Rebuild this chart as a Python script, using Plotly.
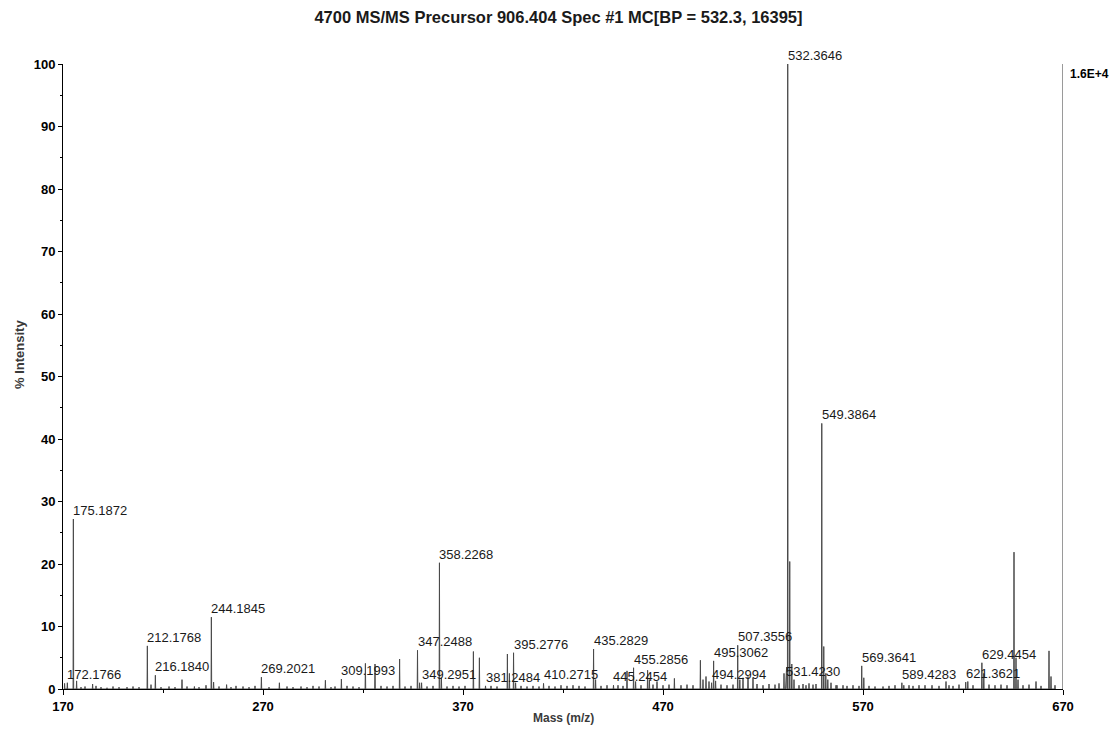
import plotly.graph_objects as go

# ---- labelled peaks (m/z, % intensity) ----
label_mz = [172.1766, 175.1872, 212.1768, 216.1840, 244.1845, 269.2021, 309.1993,
            347.2488, 349.2951, 358.2268, 381.2484, 395.2776, 410.2715, 435.2829,
            445.2454, 455.2856, 494.2994, 495.3062, 507.3556, 531.4230, 532.3646,
            549.3864, 569.3641, 589.4283, 621.3621, 629.4454]
label_int = [1.0, 27.2, 6.9, 2.2, 11.5, 1.9, 1.6,
             6.2, 1.0, 20.2, 0.5, 5.8, 0.9, 6.4,
             0.6, 3.4, 1.0, 4.5, 7.0, 1.5, 100.0,
             42.5, 3.7, 1.0, 1.1, 4.2]

# ---- unlabelled peaks ----
other_mz = [170.8, 176.8, 184.8, 186.5, 214.0, 229.5, 235.7, 241.5, 245.3, 251.8, 256.5,
            278.2, 301.2, 321.2, 326.0, 338.3, 348.3, 359.2, 375.2, 378.2, 392.2, 393.2,
            396.3, 436.3, 447.5, 452.0, 456.3, 462.3, 463.2, 467.0, 475.7, 488.7, 490.0,
            491.5, 493.0, 496.3, 508.4, 510.0, 512.5, 515.0, 517.0, 530.5, 531.8, 533.37,
            534.4, 535.5, 538.0, 540.0, 541.5, 543.0, 545.0, 546.5, 550.39, 551.4, 552.4,
            554.0, 556.5, 560.0, 570.4, 580.0, 586.0, 590.4, 598.0, 604.5, 611.5, 615.0,
            622.4, 630.4, 645.5, 646.5, 647.5, 656.5, 663.0, 664.0]
other_int = [0.9, 1.3, 0.8, 0.5, 0.7, 1.5, 0.4, 0.6, 1.1, 0.7, 0.5,
             1.0, 1.4, 4.1, 4.0, 4.8, 1.0, 1.8, 6.0, 5.0, 5.6, 2.5,
             1.0, 1.5, 0.6, 2.9, 1.2, 3.0, 1.5, 1.2, 1.7, 4.6, 1.5,
             2.0, 1.2, 1.3, 1.5, 1.8, 2.0, 1.8, 0.8, 2.5, 3.5, 20.4,
             4.0, 1.5, 0.6, 0.8, 0.6, 0.9, 0.7, 0.8, 6.8, 2.5, 1.5,
             1.0, 0.6, 0.6, 1.8, 0.4, 0.6, 0.6, 0.6, 0.6, 1.2, 0.5,
             1.2, 2.5, 21.9, 5.0, 1.5, 1.2, 6.1, 2.0]

# ---- baseline noise peaks ----
noise_mz = [179, 181, 189, 192, 195, 198, 202, 205, 208, 219, 223, 226, 232, 238, 248,
            254, 260, 263, 266, 273, 282, 285, 289, 292, 295, 298, 304, 306, 312, 315,
            318, 329, 332, 335, 341, 344, 352, 355, 362, 365, 368, 371, 384, 387, 399,
            402, 405, 408, 413, 416, 419, 422, 425, 428, 431, 439, 442, 450, 459, 465,
            470, 473, 479, 482, 485, 499, 502, 505, 520, 523, 526, 528, 557, 562, 565,
            568, 573, 576, 583, 593, 595, 601, 608, 613, 618, 625, 633, 636, 639, 642,
            650, 653, 659, 666]
noise_int = [0.3, 0.4, 0.3, 0.2, 0.4, 0.3, 0.3, 0.4, 0.3, 0.3, 0.4, 0.3, 0.4, 0.3, 0.4,
             0.3, 0.4, 0.3, 0.5, 0.3, 0.4, 0.3, 0.4, 0.3, 0.5, 0.4, 0.3, 0.4, 0.5, 0.4,
             0.3, 0.5, 0.4, 0.5, 0.4, 0.5, 0.4, 0.5, 0.4, 0.5, 0.4, 0.5, 0.5, 0.4, 0.5,
             0.4, 0.5, 0.4, 0.5, 0.4, 0.6, 0.5, 0.6, 0.5, 0.4, 0.5, 0.6, 0.5, 0.6, 0.7,
             0.6, 0.7, 0.6, 0.7, 0.6, 0.7, 0.6, 0.7, 0.6, 0.8, 0.7, 0.9, 0.6, 0.5, 0.6,
             0.5, 0.5, 0.4, 0.5, 0.6, 0.5, 0.6, 0.5, 0.6, 0.7, 0.6, 0.7, 0.6, 0.7, 0.6,
             0.6, 0.7, 0.5, 0.6]

x_ticks = [170, 270, 370, 470, 570, 670]
y_ticks = [0, 10, 20, 30, 40, 50, 60, 70, 80, 90, 100]
title_text = "4700 MS/MS Precursor 906.404 Spec #1 MC[BP = 532.3, 16395]"
scale_text = "1.6E+4"
x_title = "Mass (m/z)"
y_title = "% Intensity"

peaks = sorted(zip(label_mz + other_mz + [float(m) for m in noise_mz],
                   label_int + other_int + noise_int))
half_w = 0.15
xs, ys = [], []
for m, h in peaks:
    xs += [m - half_w, m, m + half_w]
    ys += [0, h, 0]

FONT = "Liberation Sans, Arial, sans-serif"
# the page body adds an 8px offset, so the figure is sized/margined to compensate
OFF = 8
W, H = 1117 - OFF, 733 - OFF
ML, MT = 63 - OFF, 64 - OFF
MR = W - (1063 - OFF)
MB = H - (689 - OFF)
PW, PH = W - ML - MR, H - MT - MB

fig = go.Figure()
fig.add_trace(go.Scatter(x=xs, y=ys, mode="lines",
                         line=dict(color="#4a4a4a", width=1),
                         hoverinfo="skip", showlegend=False))

# scale marker line at right edge
fig.add_shape(type="line", x0=x_ticks[-1], x1=x_ticks[-1], y0=0, y1=100,
              xref="x", yref="y", line=dict(color="#9a9a9a", width=2))
fig.add_annotation(x=x_ticks[-1], y=100, text=scale_text, showarrow=False,
                   xanchor="left", yanchor="top", xshift=5, yshift=-1,
                   font=dict(family=FONT, size=12, color="black", weight="bold"))

for m, h in zip(label_mz, label_int):
    fig.add_annotation(x=m, y=h, text=f"{m:.4f}", showarrow=False,
                       xanchor="left", yanchor="bottom", xshift=-2, yshift=-1,
                       font=dict(family=FONT, size=13, color="#1a1a1a"))

# axis titles placed as annotations (page pixel targets minus body offset)
fig.add_annotation(xref="paper", yref="paper", x=((563 - OFF) - ML) / PW,
                   y=-((718 - OFF) - (H - MB)) / PH, text=x_title, showarrow=False,
                   xanchor="center", yanchor="middle",
                   font=dict(family=FONT, size=12, color="#3a3a3a", weight="bold"))
fig.add_annotation(xref="paper", yref="paper", x=-(ML - (19 - OFF)) / PW,
                   y=((H - MB) - (355 - OFF)) / PH, text=y_title, showarrow=False,
                   textangle=-90, xanchor="center", yanchor="middle",
                   font=dict(family=FONT, size=13, color="#3a3a3a", weight="bold"))

fig.update_layout(
    width=W, height=H,
    margin=dict(l=ML, r=MR, t=MT, b=MB, autoexpand=False),
    paper_bgcolor="white", plot_bgcolor="white",
    title=dict(text=title_text, x=0.5 * (W + OFF - OFF) / W + (558.5 - OFF - W / 2) / W,
               xanchor="center", y=1 - (17 - OFF) / H, yref="container",
               yanchor="middle",
               font=dict(family=FONT, size=16.5, color="#1a1a1a", weight="bold")),
    xaxis=dict(range=[170, 670], tickvals=x_ticks, ticktext=[str(v) for v in x_ticks],
               automargin=False,
               showgrid=False, zeroline=False, showline=True, linecolor="black",
               linewidth=1, ticks="outside", ticklen=5, tickcolor="black",
               minor=dict(tick0=170, dtick=50, ticks="outside", ticklen=3,
                          tickcolor="black", showgrid=False),
               tickfont=dict(family=FONT, size=13, color="black", weight="bold")),
    yaxis=dict(range=[0, 100], tickvals=y_ticks, ticktext=[str(v) for v in y_ticks],
               automargin=False,
               showgrid=False, zeroline=False, showline=True, linecolor="black",
               linewidth=1, ticks="outside", ticklen=4, tickcolor="black",
               minor=dict(tick0=0, dtick=5, ticks="outside", ticklen=2,
                          tickcolor="black", showgrid=False),
               tickfont=dict(family=FONT, size=13, color="black", weight="bold")),
)

fig.write_html("out.html")
